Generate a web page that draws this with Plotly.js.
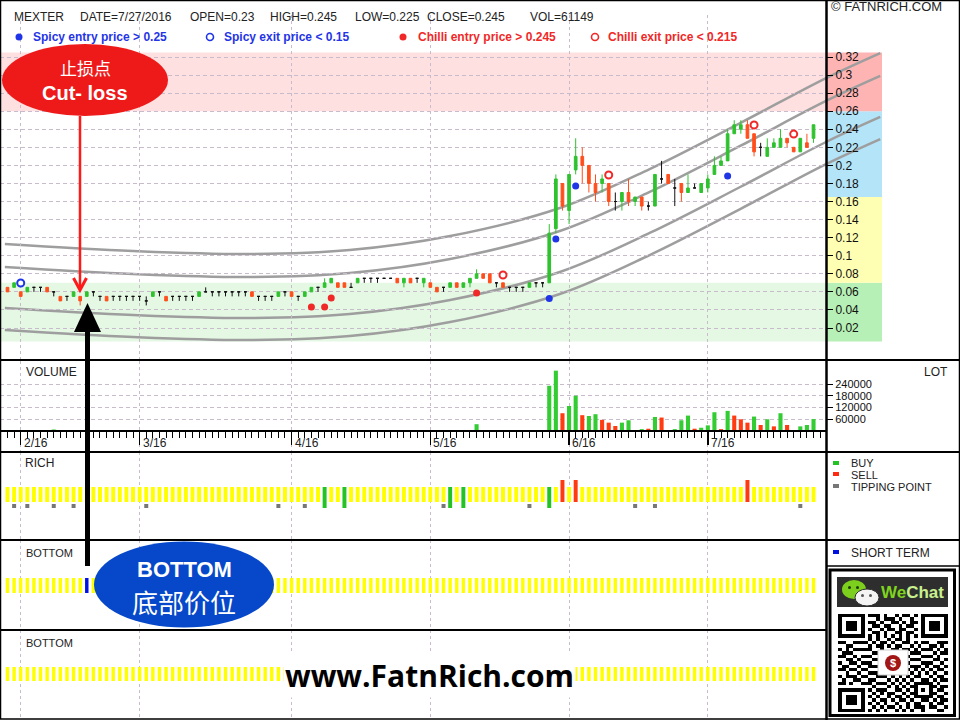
<!DOCTYPE html>
<html>
<head>
<meta charset="utf-8">
<script src="https://cdn.plot.ly/plotly-3.0.1.min.js"></script>
<style>
  html, body { margin: 0; padding: 0; background: #fff; }
  #chart { width: 960px; height: 720px; }
</style>
</head>
<body>
<div id="chart"></div>
<script>
// ---------- daily price data, one entry per trading day ----------
const ticker = 'MEXTER';
const lastDate = '7/27/2016';

const openP = [
  .065,.065,.06,.06,.065,.065,.065,.06,.055,.055,
  .055,.055,.055,.06,.055,.055,.055,.055,.055,.055,
  .055,.05,.055,.06,.055,.055,.055,.055,.055,.055,
  .06,.06,.06,.06,.06,.06,.06,.06,.055,.055,
  .055,.055,.06,.06,.055,.055,.06,.065,.065,.07,
  .07,.07,.065,.07,.075,.075,.075,.075,.075,.075,
  .07,.075,.075,.07,.07,.065,.065,.065,.07,.065,
  .07,.075,.08,.08,.07,.07,.065,.065,.065,.065,
  .07,.07,.07,.13,.18,.15,.195,.21,.2,.18,
  .18,.18,.16,.16,.17,.16,.165,.155,.155,.185,
  .19,.175,.18,.17,.175,.17,.175,.19,.2,.205,
  .235,.24,.245,.235,.22,.21,.22,.22,.23,.22,
  .215,.225,.23
];
const highP = [
  .065,.07,.06,.065,.065,.065,.065,.06,.055,.055,
  .06,.055,.06,.06,.055,.055,.055,.055,.055,.055,
  .055,.055,.06,.06,.055,.055,.055,.055,.055,.06,
  .065,.06,.06,.06,.06,.06,.06,.06,.055,.055,
  .055,.06,.06,.06,.055,.06,.065,.065,.075,.075,
  .07,.07,.07,.075,.075,.075,.075,.075,.075,.075,
  .075,.075,.075,.075,.07,.065,.065,.07,.07,.07,
  .075,.085,.08,.08,.07,.07,.065,.065,.065,.07,
  .07,.07,.135,.19,.18,.19,.23,.22,.2,.19,
  .19,.18,.17,.17,.185,.165,.165,.16,.19,.205,
  .19,.185,.18,.19,.18,.18,.19,.21,.21,.24,
  .25,.25,.25,.235,.225,.23,.23,.24,.23,.22,
  .23,.235,.245
];
const lowP = [
  .06,.065,.055,.06,.06,.06,.06,.055,.05,.05,
  .055,.045,.055,.055,.05,.05,.05,.05,.05,.05,
  .05,.045,.055,.055,.05,.05,.05,.05,.05,.055,
  .06,.055,.055,.055,.055,.055,.055,.055,.05,.05,
  .05,.055,.055,.055,.05,.055,.06,.06,.065,.07,
  .065,.065,.065,.07,.07,.07,.07,.075,.075,.07,
  .065,.07,.07,.065,.065,.06,.06,.065,.065,.065,
  .065,.075,.075,.07,.065,.065,.06,.06,.06,.065,
  .065,.065,.07,.125,.15,.135,.19,.18,.17,.16,
  .17,.155,.15,.15,.155,.155,.15,.15,.155,.18,
  .18,.155,.16,.17,.175,.17,.17,.19,.2,.205,
  .235,.235,.23,.21,.21,.21,.22,.22,.22,.215,
  .215,.22,.225
];
const closeP = [
  .06,.07,.055,.065,.065,.065,.06,.06,.05,.055,
  .06,.05,.06,.06,.055,.05,.055,.055,.055,.055,
  .055,.05,.06,.06,.05,.055,.055,.055,.055,.06,
  .06,.06,.06,.06,.06,.06,.06,.055,.055,.055,
  .055,.06,.06,.055,.055,.06,.065,.065,.07,.075,
  .065,.065,.065,.075,.075,.075,.075,.075,.075,.07,
  .075,.07,.075,.075,.065,.06,.065,.07,.065,.07,
  .075,.08,.075,.07,.07,.065,.065,.065,.065,.07,
  .07,.07,.125,.185,.155,.19,.21,.2,.18,.17,
  .185,.16,.16,.17,.16,.165,.155,.155,.19,.185,
  .18,.175,.17,.175,.175,.18,.185,.2,.205,.235,
  .245,.245,.23,.215,.22,.22,.225,.23,.225,.215,
  .23,.22,.245
];
// traded volume (lots) and bar colour: G = buying day, R = selling day
const volume = [
  0,0,0,0,0,0,3000,8000,0,0,
  0,0,0,0,0,0,0,0,0,0,
  0,3000,0,0,0,0,0,0,0,0,
  0,0,0,0,0,0,0,0,0,0,
  0,3000,0,0,0,0,0,0,3000,0,
  0,0,0,0,0,0,0,0,0,0,
  0,0,0,0,0,0,0,0,0,0,
  0,35000,0,0,0,0,0,0,0,0,
  0,0,231000,308000,91000,128000,180000,81000,77000,86000,
  57000,43000,26000,43000,55000,5000,10000,12000,72000,69000,
  0,10000,55000,79000,12000,17000,29000,96000,10000,103000,
  79000,60000,43000,74000,31000,60000,24000,91000,31000,5000,
  24000,31000,61149
];
const volSide = 'G'.repeat(82) + 'GGRGGRGGRRRGGRGRGRGGGGRGGGRGRRRGRGRGRRGGG';

// month boundaries on the day axis
const monthIdx = [2, 20, 43, 64, 85, 106];
const monthLbl = ['2/16', '3/16', '4/16', '5/16', '6/16', '7/16'];
const priceTicks = [0.02,0.04,0.06,0.08,0.1,0.12,0.14,0.16,0.18,0.2,0.22,0.24,0.26,0.28,0.3,0.32];
const volTicks = [60000, 120000, 180000, 240000];

// price zones shown beside the price scale
const zoneEdges = [0.005, 0.07, 0.165, 0.26, 0.325];

// trading signals: day index and the level where the marker sits
const spicyEntryAt = 0.25, spicyExitAt = 0.15, chilliEntryAt = 0.245, chilliExitAt = 0.215;
const spicyEntryIdx = [82, 83, 86, 109];
const spicyEntryY   = [0.0527, 0.1185, 0.1772, 0.1883];
const spicyExitIdx  = [2];
const spicyExitY    = [0.0698];
const chilliEntryIdx = [46, 48, 49, 71];
const chilliEntryY   = [0.0432, 0.0432, 0.0532, 0.0587];
const chilliExitIdx  = [75, 91, 113, 119];
const chilliExitY    = [0.0787, 0.1894, 0.2447, 0.2347];

// regression channel lines (day index, price)
const chanIdx = [-0.4, 19, 36.7, 51.8, 67, 83.6, 97.2, 110.9, 123.9, 132.1];
const chanUpper2 = [0.1129, 0.1052, 0.1019, 0.1063, 0.1218, 0.1528, 0.1960, 0.2469, 0.2967, 0.3244];
const chanUpper1 = [0.0875, 0.0798, 0.0765, 0.0809, 0.0964, 0.1274, 0.1706, 0.2215, 0.2713, 0.2990];
const chanLower1 = [0.0421, 0.0344, 0.0311, 0.0355, 0.0510, 0.0820, 0.1252, 0.1761, 0.2259, 0.2536];
const chanLower2 = [0.0177, 0.0100, 0.0067, 0.0111, 0.0266, 0.0576, 0.1008, 0.1517, 0.2015, 0.2292];

// RICH indicator: buy / sell days and tipping points
const richBuy = [48, 51, 67, 69, 82];
const richSell = [84, 86, 112];
const richTip = [1, 3, 7, 10, 21, 41, 45, 66, 79, 95, 98, 120];
// BOTTOM indicator: short-term bottom days
const bottomShort = [12];

// WeChat QR pattern (data modules)
const qrRows = [
  "10110100111010010110101100101","01101011001011101001010110110","11010010110100110101101001011",
  "00101101011011001011010110100","11100110100101101100101011011","01011001011010011011011010101",
  "10100111010110100101100101010","01011010101001011010011011001","11001101010110100110101100111",
  "00110010101101011001010011010","10101101100100110110101110101","01110010011011001001110001011",
  "11001011100110110110001110100","00110100011001001101110001101","10011011100110110010001110010",
  "01100100111001001101110101101","11011011000110110010101010110","00100110111001010101010101001",
  "10111001001110101010110010110","01001110110001010101001101011","11010001101110101010110010100",
  "00101110010001010101001101011","10010101101110011010110010110","01101010010101100101001101001",
  "11010101101001011010110010110","00101010010110101101001101011","10010101101010010010110010110",
  "01101010010101101010111011001","11010101101010010101001000110"
];

// ---------- geometry helpers (canvas pixels -> axis / paper units) ----------
const W = 960, H = 720;
const X0 = 7.5, DX = 6.6067;                    // first bar centre, bar spacing (px)
const xr = (a, b) => [(a - X0) / DX, (b - X0) / DX];
const priceAt = y => 0.02 + (328 - y) / 903.33;
const volAt = y => (431.07 - y) / 0.0001961;
const dom = (bot, top) => [1 - bot / H, 1 - top / H];
const px = x => x / W;
const py = y => 1 - y / H;

const N = closeP.length;
const days = Array.from({length: N}, (_, i) => i);
const GRID = 'rgb(200,188,204)';
const UP = '#2fc22f', DOWN = '#ff4f1c', FLAT = '#111111';
const BLUE = '#1f35e6', RED = '#f02828', YEL = '#ffff00';
const TXT = 'Liberation Sans, Arial, sans-serif';
const CJK = 'Noto Sans CJK SC, sans-serif';

const traces = [];

// channel lines (drawn on a slightly wider canvas so they run past the price scale)
[chanUpper2, chanUpper1, chanLower1, chanLower2].forEach(c => traces.push({
  type: 'scatter', mode: 'lines', xaxis: 'x', yaxis: 'y', x: chanIdx, y: c,
  line: {color: '#9e9e9e', width: 2.5, shape: 'spline', smoothing: 1}, hoverinfo: 'skip'
}));

// candlesticks split by direction
function candles(pick, color) {
  const ii = days.filter(pick);
  const side = {line: {color: color, width: 1}, fillcolor: color};
  return {
    type: 'candlestick', xaxis: 'x2', yaxis: 'y2', x: ii,
    open: ii.map(i => openP[i]), high: ii.map(i => highP[i]),
    low: ii.map(i => lowP[i]), close: ii.map(i => closeP[i]),
    increasing: side, decreasing: side, whiskerwidth: 0, hoverinfo: 'skip'
  };
}
traces.push(candles(i => closeP[i] > openP[i], UP));
traces.push(candles(i => closeP[i] < openP[i], DOWN));
traces.push(candles(i => closeP[i] === openP[i], FLAT));

// entry / exit markers
function signal(ix, ys, color, hollow) {
  return {
    type: 'scatter', mode: 'markers', xaxis: 'x2', yaxis: 'y2', x: ix, y: ys, cliponaxis: false,
    marker: {symbol: 'circle', size: 7, color: hollow ? '#ffffff' : color,
             line: {color: color, width: hollow ? 2 : 0}},
    hoverinfo: 'skip'
  };
}
traces.push(signal(spicyEntryIdx, spicyEntryY, BLUE, false));
traces.push(signal(spicyExitIdx, spicyExitY, BLUE, true));
traces.push(signal(chilliEntryIdx, chilliEntryY, RED, false));
traces.push(signal(chilliExitIdx, chilliExitY, RED, true));

// volume
traces.push({
  type: 'bar', xaxis: 'x3', yaxis: 'y3', x: days, y: volume, width: 0.62,
  marker: {color: days.map(i => volSide[i] === 'G' ? '#33cc33' : '#ff3b12'), line: {width: 0}},
  hoverinfo: 'skip'
});

// RICH panel
const richCode = days.map(i => richBuy.includes(i) ? 1 : (richSell.includes(i) ? -1 : 0));
const richSpan = {'0': [38, 53], '1': [32, 53], '-1': [38, 60]};
const richColor = {'0': YEL, '1': '#22c322', '-1': '#ff3a10'};
traces.push({
  type: 'bar', xaxis: 'x5', yaxis: 'y5', x: days, width: 0.6,
  base: richCode.map(c => richSpan[c][0]),
  y: richCode.map(c => richSpan[c][1] - richSpan[c][0]),
  marker: {color: richCode.map(c => richColor[c]), line: {width: 0}}, hoverinfo: 'skip'
});
traces.push({
  type: 'scatter', mode: 'markers', xaxis: 'x5', yaxis: 'y5', x: richTip, y: richTip.map(() => 34),
  marker: {symbol: 'square', size: 4, color: '#777777'}, hoverinfo: 'skip'
});

// BOTTOM panels
traces.push({
  type: 'bar', xaxis: 'x6', yaxis: 'y6', x: days, width: 0.52,
  base: days.map(() => 37), y: days.map(() => 15),
  marker: {color: days.map(i => bottomShort.includes(i) ? '#0010e0' : YEL), line: {width: 0}},
  hoverinfo: 'skip'
});
traces.push({
  type: 'bar', xaxis: 'x7', yaxis: 'y7', x: days, width: 0.52,
  base: days.map(() => 37), y: days.map(() => 14),
  marker: {color: YEL, line: {width: 0}}, hoverinfo: 'skip'
});

// QR code
function buildQR() {
  const n = qrRows.length;
  const z = qrRows.map(r => r.split('').map(Number));
  const finder = (r0, c0) => {
    for (let r = -1; r <= 7; r++) for (let c = -1; c <= 7; c++) {
      const rr = r0 + r, cc = c0 + c;
      if (rr < 0 || cc < 0 || rr >= n || cc >= n) continue;
      let v = 0;
      if (r >= 0 && r <= 6 && c >= 0 && c <= 6)
        v = (r === 0 || r === 6 || c === 0 || c === 6 || (r >= 2 && r <= 4 && c >= 2 && c <= 4)) ? 1 : 0;
      z[rr][cc] = v;
    }
  };
  finder(0, 0); finder(0, n - 7); finder(n - 7, 0);
  for (let k = 8; k < n - 8; k++) { z[6][k] = k % 2 === 0 ? 1 : 0; z[k][6] = k % 2 === 0 ? 1 : 0; }
  for (let r = -2; r <= 2; r++) for (let c = -2; c <= 2; c++)
    z[22 + r][22 + c] = (Math.max(Math.abs(r), Math.abs(c)) !== 1) ? 1 : 0;
  return z;
}
traces.push({
  type: 'heatmap', xaxis: 'x8', yaxis: 'y8', z: buildQR(), showscale: false,
  colorscale: [[0, '#ffffff'], [1, '#000000']], zmin: 0, zmax: 1, hoverinfo: 'skip'
});

// ---------- axes ----------
function panelX(anchor, extra) {
  return Object.assign({
    domain: [0, px(826)], range: xr(0, 826), anchor: anchor, fixedrange: true,
    tickmode: 'array', tickvals: monthIdx, showticklabels: false, ticks: '',
    showgrid: true, gridcolor: GRID, gridwidth: 1, griddash: '3px,3px',
    zeroline: false, showline: false
  }, extra || {});
}
const hiddenY = (d, r, anchor) => ({domain: d, range: r, anchor: anchor, visible: false, fixedrange: true});

const layout = {
  width: W, height: H, margin: {l: 0, r: 0, t: 0, b: 0},
  paper_bgcolor: '#ffffff', plot_bgcolor: 'rgba(0,0,0,0)',
  showlegend: false, barmode: 'overlay', boxgap: 0.42,
  font: {family: TXT, size: 12, color: '#222'},
  xaxis: {domain: [0, px(882)], range: xr(0, 882), anchor: 'y', visible: false, fixedrange: true},
  yaxis: hiddenY(dom(360, 15), [priceAt(360), priceAt(15)], 'x'),
  xaxis2: panelX('y2', {rangeslider: {visible: false}}),
  yaxis2: {
    domain: dom(360, 15), range: [priceAt(360), priceAt(15)], anchor: 'x2', side: 'right',
    tickmode: 'array', tickvals: priceTicks, ticktext: priceTicks.map(String),
    ticks: 'outside', ticklen: 6, tickcolor: '#000', tickfont: {size: 12, color: '#111', family: TXT},
    showgrid: true, gridcolor: GRID, griddash: '4px,3px', zeroline: false, showline: false, fixedrange: true
  },
  xaxis3: panelX('y3'),
  yaxis3: {
    domain: dom(432, 361), range: [volAt(432), volAt(361)], anchor: 'x3', side: 'right',
    tickmode: 'array', tickvals: volTicks, ticktext: volTicks.map(String),
    ticks: 'outside', ticklen: 6, tickcolor: '#000', tickfont: {size: 11, color: '#111', family: TXT},
    showgrid: true, gridcolor: GRID, griddash: '4px,3px', zeroline: false, showline: false, fixedrange: true
  },
  xaxis4: panelX('y4', {
    side: 'top', showline: true, linecolor: '#000', linewidth: 2,
    ticks: 'inside', ticklen: 13, tickwidth: 1.5, tickcolor: '#000',
    minor: {tickmode: 'linear', tick0: 0, dtick: 1, ticks: 'inside', ticklen: 6, tickwidth: 1, tickcolor: '#000', showgrid: false}
  }),
  yaxis4: hiddenY(dom(452, 432), [0, 1], 'x4'),
  xaxis5: panelX('y5'),
  yaxis5: hiddenY(dom(540, 452), [0, 88], 'x5'),
  xaxis6: panelX('y6'),
  yaxis6: hiddenY(dom(630, 540), [0, 90], 'x6'),
  xaxis7: panelX('y7'),
  yaxis7: hiddenY(dom(718, 630), [0, 88], 'x7'),
  xaxis8: {domain: [px(838), px(948)], anchor: 'y8', visible: false, fixedrange: true},
  yaxis8: {domain: dom(712, 614), anchor: 'x8', visible: false, autorange: 'reversed', fixedrange: true}
};

// ---------- shapes ----------
const shapes = [];
const zoneAxis = ['#b6f0b6', '#ffffb4', '#b4e4f8', '#ffb4b4'];
const zonePlot = ['#e4f8e4', null, null, '#ffe0e0'];
for (let k = 0; k < zoneAxis.length; k++) {
  shapes.push({type: 'rect', layer: 'below', xref: 'paper', yref: 'y2', x0: px(826), x1: px(882),
    y0: zoneEdges[k], y1: zoneEdges[k + 1], fillcolor: zoneAxis[k], line: {width: 0}});
  if (zonePlot[k]) shapes.push({type: 'rect', layer: 'below', xref: 'paper', yref: 'y2', x0: 0, x1: px(826),
    y0: zoneEdges[k], y1: zoneEdges[k + 1], fillcolor: zonePlot[k], line: {width: 0}});
}
const seg = (x0, y0, x1, y1, w, c) => shapes.push({type: 'line', xref: 'paper', yref: 'paper',
  x0: px(x0), y0: py(y0), x1: px(x1), y1: py(y1), line: {color: c || '#000', width: w}});
const rectP = (x0, y0, x1, y1, fill, lw, lc) => shapes.push({type: 'rect', xref: 'paper', yref: 'paper',
  x0: px(x0), y0: py(y0), x1: px(x1), y1: py(y1), fillcolor: fill, line: {width: lw || 0, color: lc || '#000'}});
const ell = (x0, y0, x1, y1, fill, lw, lc) => shapes.push({type: 'circle', xref: 'paper', yref: 'paper',
  x0: px(x0), y0: py(y0), x1: px(x1), y1: py(y1), fillcolor: fill, line: {width: lw || 0, color: lc || fill}});
const pathP = (pts, fill, lw, lc, closed) => shapes.push({type: 'path', xref: 'paper', yref: 'paper',
  path: pts.map((p, i) => (i ? 'L' : 'M') + px(p[0]) + ',' + py(p[1])).join(' ') + (closed ? ' Z' : ''),
  fillcolor: fill || 'rgba(0,0,0,0)', line: {width: lw || 0, color: lc || '#000'}});

// panel frames
seg(0, 360, 960, 360, 2);
seg(0, 452, 960, 452, 2);
seg(0, 540, 960, 540, 2);
seg(0, 630, 827, 630, 2);
seg(827, 566, 960, 566, 1.5);
seg(826.5, 0, 826.5, 720, 2.5);
rectP(0.5, 0.5, 959.5, 719, 'rgba(0,0,0,0)', 1.5, '#000');

// legend symbols in the header
ell(15.5, 33.5, 22.5, 40.5, BLUE);
ell(206.5, 33.5, 213.5, 40.5, '#fff', 1.6, BLUE);
ell(399.5, 33.5, 406.5, 40.5, RED);
ell(591.5, 33.5, 598.5, 40.5, '#fff', 1.6, RED);

// RICH / BOTTOM legends
rectP(833, 461, 839, 465, '#22c322');
rectP(833, 472, 839, 476, '#ff2a10');
rectP(833, 484, 839, 488, '#777');
rectP(833, 550, 839, 554, '#0010e0');

// cut-loss callout
ell(2, 44, 168, 116, '#ee1a1a');
seg(80, 116, 80, 288, 2.5, '#ff1a1a');
pathP([[73.5, 278], [80, 290], [86.5, 278]], null, 3, '#ff1a1a', false);

// bottom callout
seg(87.5, 328, 87.5, 566, 5, '#000');
pathP([[87.5, 303], [101, 332], [74, 332]], '#000', 0, '#000', true);
ell(94, 541.5, 274, 627.5, '#0648c9');

// WeChat block
rectP(830, 570, 954.5, 715.5, 'rgba(0,0,0,0)', 3, '#000');
rectP(837, 577, 948, 607, '#2e2e2e');
ell(842, 580, 866, 599, '#7ccf1c');
ell(848, 586, 851, 589, '#1d3a0b');
ell(856, 586, 859, 589, '#1d3a0b');
ell(855, 589, 879, 606, '#f4f4f4', 1, '#2e2e2e');
ell(861, 594, 864, 597, '#555');
ell(869, 594, 872, 597, '#555');
rectP(878, 650, 908, 675, '#ffffff', 1, '#cccccc');
ell(885, 655, 901, 671, '#a31616');

// ---------- annotations ----------
const ann = [];
const txt = (x, y, t, opt) => ann.push(Object.assign({
  xref: 'paper', yref: 'paper', x: px(x), y: py(y), text: t, showarrow: false,
  xanchor: 'left', yanchor: 'middle', font: {family: TXT, size: 12, color: '#222'}
}, opt || {}));

const last = N - 1;
txt(12, 17, ticker);
txt(78, 17, 'DATE=' + lastDate);
txt(188, 17, 'OPEN=' + openP[last]);
txt(268, 17, 'HIGH=' + highP[last]);
txt(353, 17, 'LOW=' + lowP[last]);
txt(425, 17, 'CLOSE=' + closeP[last]);
txt(528, 17, 'VOL=' + volume[last]);
const bold = (c) => ({font: {family: TXT, size: 12, color: c}});
txt(31, 37, '<b>Spicy entry price &gt; ' + spicyEntryAt + '</b>', bold(BLUE));
txt(222, 37, '<b>Spicy exit price &lt; ' + spicyExitAt + '</b>', bold(BLUE));
txt(416, 37, '<b>Chilli entry price &gt; ' + chilliEntryAt + '</b>', bold(RED));
txt(606, 37, '<b>Chilli exit price &lt; ' + chilliExitAt + '</b>', bold(RED));
txt(829, 7, '\u00a9 FATNRICH.COM', {font: {family: TXT, size: 13, color: '#222'}});

const small = {font: {family: TXT, size: 11, color: '#222'}};
txt(24, 372, 'VOLUME');
txt(922, 372, 'LOT');
txt(23, 463, 'RICH');
txt(849, 463, 'BUY', small);
txt(849, 475, 'SELL', small);
txt(849, 487, 'TIPPING POINT', small);
txt(24, 553, 'BOTTOM', small);
txt(849, 553, 'SHORT TERM');
txt(24, 643, 'BOTTOM', small);

monthIdx.forEach((m, k) => ann.push({
  xref: 'x4', yref: 'paper', x: m, y: py(443), text: monthLbl[k], showarrow: false,
  xanchor: 'left', yanchor: 'middle', xshift: 1, font: {family: TXT, size: 12, color: '#222'}
}));

const ctr = {xanchor: 'center'};
txt(85, 67, '止损点', Object.assign({font: {family: CJK, size: 17, color: '#fff'}}, ctr));
txt(85, 93, '<b>Cut- loss</b>', Object.assign({font: {family: TXT, size: 20, color: '#fff'}}, ctr));
txt(184, 569, '<b>BOTTOM</b>', Object.assign({font: {family: TXT, size: 22, color: '#fff'}}, ctr));
txt(184, 601, '底部价位', Object.assign({font: {family: CJK, size: 26, color: '#fff'}}, ctr));
txt(429.5, 675, '<b>www.FatnRich.com</b>', Object.assign({font: {family: 'Open Sans, sans-serif', size: 30, color: '#000'},
  bgcolor: '#ffffff', borderpad: 1}, ctr));
txt(912, 592, '<b><span style="color:#7fd41e">We</span><span style="color:#c9f08e">Chat</span></b>',
  Object.assign({font: {family: TXT, size: 17, color: '#7fd41e'}}, ctr));
txt(893, 663, '<b>$</b>', Object.assign({font: {family: TXT, size: 11, color: '#fff'}}, ctr));

layout.shapes = shapes;
layout.annotations = ann;

Plotly.newPlot('chart', traces, layout, {staticPlot: true, displayModeBar: false});
</script>
</body>
</html>
